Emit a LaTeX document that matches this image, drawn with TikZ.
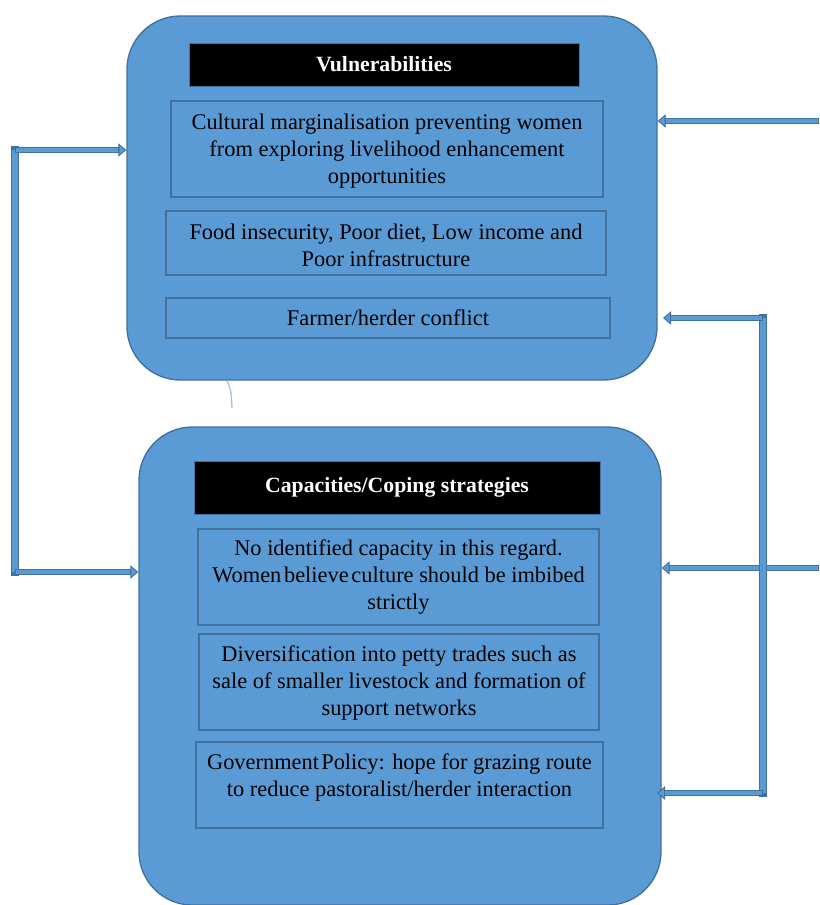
\documentclass[tikz,border=0pt]{standalone}
\usepackage{fontspec}
\setmainfont{Liberation Serif}
\usetikzlibrary{arrows.meta}
\definecolor{panel}{HTML}{5B9BD5}
\definecolor{edge}{HTML}{41719C}
\definecolor{arccol}{HTML}{9DC3E6}
\begin{document}
\begin{tikzpicture}[x=0.75pt,y=-0.75pt,
  panelbox/.style={draw=edge, line width=1pt, fill=panel, rounded corners=40pt, inner sep=0pt},
  header/.style={fill=black, draw=edge, line width=0.6pt, text=white, inner sep=0pt,
                 font=\fontsize{16.3}{19}\selectfont\bfseries},
  itembox/.style={draw=edge, line width=0.9pt, inner sep=0pt},
  itemtext/.style={align=center, inner sep=0pt, font=\fontsize{16.8}{20.25}\selectfont},
  conn/.style={draw=edge, line width=4pt,
               -{Triangle[width=10pt,length=6pt,fill=panel,line width=0.7pt]},
               postaction={draw=panel, line width=2.6pt, -, shorten >=6pt, shorten <=0.7pt}},
  bar/.style={draw=edge, line width=5.4pt, line cap=rect,
              postaction={draw=panel, line width=4pt, line cap=butt}},
  arcline/.style={draw=arccol, line width=1pt}]
\useasboundingbox (0,0) rectangle (819,905);

% panels
\node[panelbox, minimum width=530*0.75pt, minimum height=364*0.75pt] (vul) at (392,198) {};
\node[panelbox, minimum width=522*0.75pt, minimum height=478*0.75pt] (cap) at (400,666) {};

% headers
\node[header, minimum width=390*0.75pt, minimum height=43*0.75pt] (h1) at (384,64.5) {Vulnerabilities};
\node[header, minimum width=406*0.75pt, minimum height=53*0.75pt] (h2) at (397,487.5) {Capacities/Coping strategies};

% vulnerability items
\node[itembox, minimum width=432*0.75pt, minimum height=96*0.75pt] (v1) at (387,149) {};
\node[itemtext] (v1t) at (387,151) {Cultural marginalisation preventing women\\from exploring livelihood enhancement\\opportunities};
\node[itembox, minimum width=440*0.75pt, minimum height=64*0.75pt] (v2) at (386,243) {};
\node[itemtext] (v2t) at (386,245.5) {Food insecurity, Poor diet, Low income and\\Poor infrastructure};
\node[itembox, minimum width=444*0.75pt, minimum height=40*0.75pt] (v3) at (388,318) {};
\node[itemtext] (v3t) at (388,318) {Farmer/herder conflict};

% capacity items
\node[itembox, minimum width=401*0.75pt, minimum height=96*0.75pt] (c1) at (398.5,577) {};
\node[itemtext] (c1t) at (398.5,577) {No identified capacity in this regard.\\Women\hspace{0.12em}believe\hspace{0.12em}culture should be imbibed\\strictly};
\node[itembox, minimum width=400*0.75pt, minimum height=96*0.75pt] (c2) at (399,682) {};
\node[itemtext] (c2t) at (399,683) {Diversification into petty trades such as\\sale of smaller livestock and formation of\\support networks};
\node[itembox, minimum width=407*0.75pt, minimum height=86*0.75pt] (c3) at (399.5,785) {};
\node[itemtext] (c3t) at (399.5,777.5) {Government\hspace{0.1em}Policy: hope for grazing route\\to reduce pastoralist/herder interaction};

% small arc between panels
\draw[arcline] (vul.south -| 227,0) .. controls (231,390) .. (232,408);

% left bracket
\coordinate (L1) at (15,150);
\coordinate (L2) at (15,572);
\draw[bar] (L1) -- (L2);
\draw[conn] (L1) -- (L1 -| vul.west);
\draw[conn] (L2) -- (L2 -| cap.west);

% right side
\coordinate (R0) at (819,121);
\coordinate (R1) at (763,318);
\coordinate (R2) at (763,793);
\coordinate (R3) at (819,568);
\coordinate (T1) at (663,318);
\coordinate (T2) at (657,793);
\draw[conn] (R0) -- (R0 -| vul.east);
\draw[conn] (R3) -- (R3 -| cap.east);
\draw[bar] (R1) -- (R2);
\draw[conn] (R1) -- (T1);
\draw[conn] (R2) -- (T2);
\end{tikzpicture}
\end{document}
